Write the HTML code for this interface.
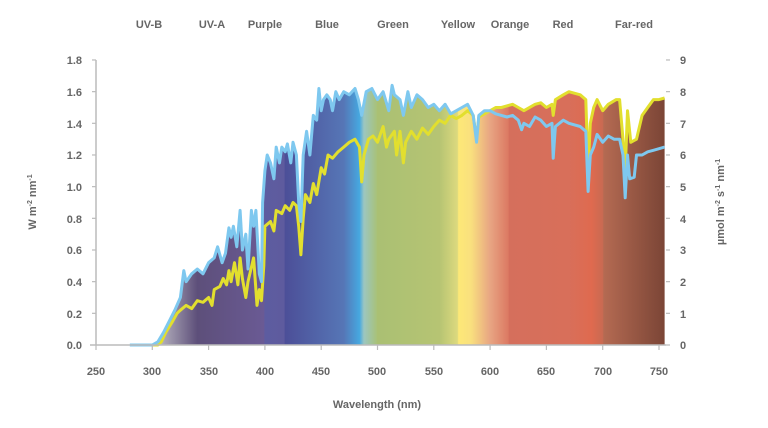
<!DOCTYPE html>
<html><head><meta charset="utf-8"><style>
html,body{margin:0;padding:0;background:#fff;}
svg text{font-family:"Liberation Sans",sans-serif;fill:#666;font-weight:bold;}
</style></head><body>
<svg id="s" width="768" height="423" viewBox="0 0 768 423" xmlns="http://www.w3.org/2000/svg">
<defs>
<linearGradient id="g" gradientUnits="userSpaceOnUse" x1="152" y1="0" x2="665" y2="0">
</linearGradient>
<clipPath id="c"><path id="cp" d=""/></clipPath>
</defs>
<g font-size="11" text-anchor="middle">
<text x="149" y="28">UV-B</text><text x="212" y="28">UV-A</text><text x="265" y="28">Purple</text>
<text x="327" y="28">Blue</text><text x="393" y="28">Green</text><text x="458" y="28">Yellow</text>
<text x="510" y="28">Orange</text><text x="563" y="28">Red</text><text x="634" y="28">Far-red</text>
</g>
<rect x="96" y="55" width="570" height="291" fill="url(#g)" clip-path="url(#c)"/>
<path id="yl" fill="none" stroke="#e2df2e" stroke-width="3" stroke-linejoin="round"/>
<path id="bl" fill="none" stroke="#7ec8ef" stroke-width="3" stroke-linejoin="round"/>
<line x1="96" y1="60" x2="96" y2="345" stroke="#bbb" stroke-width="1.5"/>
<line x1="90" y1="345" x2="666" y2="345" stroke="#bbb" stroke-width="1.5"/>
<g id="ticks" stroke="#bbb" stroke-width="1.2"></g>
<g font-size="11" text-anchor="end">
<text x="82" y="64">1.8</text><text x="82" y="96">1.6</text><text x="82" y="128">1.4</text>
<text x="82" y="159">1.2</text><text x="82" y="191">1.0</text><text x="82" y="223">0.8</text>
<text x="82" y="254">0.6</text><text x="82" y="286">0.4</text><text x="82" y="318">0.2</text>
<text x="82" y="349">0.0</text>
</g>
<g font-size="11" text-anchor="start">
<text x="680" y="64">9</text><text x="680" y="96">8</text><text x="680" y="128">7</text>
<text x="680" y="159">6</text><text x="680" y="191">5</text><text x="680" y="223">4</text>
<text x="680" y="254">3</text><text x="680" y="286">2</text><text x="680" y="318">1</text>
<text x="680" y="349">0</text>
</g>
<g font-size="11" text-anchor="middle">
<text x="96" y="375">250</text><text x="152" y="375">300</text><text x="209" y="375">350</text>
<text x="265" y="375">400</text><text x="321" y="375">450</text><text x="377" y="375">500</text>
<text x="434" y="375">550</text><text x="490" y="375">600</text><text x="546" y="375">650</text>
<text x="603" y="375">700</text><text x="659" y="375">750</text>
<text x="377" y="408">Wavelength (nm)</text>
</g>
<text font-size="11" text-anchor="middle" transform="translate(36,202) rotate(-90)">W m<tspan font-size="7" dy="-4">-2</tspan><tspan dy="4"> nm</tspan><tspan font-size="7" dy="-4">-1</tspan></text>
<text font-size="11" text-anchor="middle" transform="translate(724,202) rotate(-90)">µmol m<tspan font-size="7" dy="-4">-2</tspan><tspan dy="4"> s</tspan><tspan font-size="7" dy="-4">-1</tspan><tspan dy="4"> nm</tspan><tspan font-size="7" dy="-4">-1</tspan></text>
</svg>
<script>
var X=function(n){return 96+(n-250)*1.126;},Y=function(v){return 345-v*158.33;};
var B=[280,0,300,0,305,0.02,310,0.08,315,0.15,320,0.22,325,0.3,328,0.47,330,0.4,335,0.45,340,0.48,345,0.45,350,0.52,355,0.55,358,0.62,362,0.52,365,0.58,368,0.74,370,0.68,372,0.75,375,0.62,378,0.85,380,0.6,383,0.7,385,0.48,388,0.85,390,0.75,392,0.85,395,0.45,397,0.4,398,0.9,400,1.1,402,1.2,405,1.15,408,1.05,410,1.25,413,1.15,415,1.25,418,1.22,420,1.27,423,1.15,425,1.28,428,1.2,430,0.9,432,0.78,434,1.2,437,1.35,440,1.2,443,1.45,446,1.42,448,1.62,450,1.48,452,1.55,455,1.58,458,1.55,460,1.48,463,1.6,466,1.55,470,1.6,475,1.58,480,1.62,483,1.55,486,1.45,490,1.6,495,1.62,500,1.55,505,1.6,510,1.48,513,1.64,515,1.58,520,1.55,523,1.45,527,1.6,530,1.5,535,1.58,540,1.55,545,1.5,550,1.52,555,1.48,560,1.52,565,1.46,570,1.48,575,1.5,580,1.52,585,1.45,588,1.28,590,1.45,595,1.48,600,1.48,605,1.46,610,1.45,615,1.44,620,1.45,625,1.42,628,1.36,630,1.4,635,1.38,640,1.44,645,1.42,650,1.38,655,1.4,656,1.18,658,1.38,665,1.42,670,1.4,680,1.38,685,1.35,687,0.97,689,1.2,692,1.25,695,1.33,700,1.28,705,1.32,710,1.3,715,1.3,718,1.2,720,0.93,722,1.2,724,1.05,728,1.06,730,1.2,735,1.2,740,1.22,745,1.23,750,1.24,755,1.25];
var Yw=[300,0,305,0,308,0.02,312,0.08,318,0.15,322,0.2,325,0.22,330,0.25,335,0.23,340,0.28,345,0.27,350,0.3,353,0.25,355,0.35,360,0.37,363,0.42,366,0.38,368,0.47,370,0.4,373,0.52,376,0.38,378,0.55,380,0.42,383,0.3,385,0.4,390,0.55,392,0.35,393,0.25,395,0.35,397,0.28,399,0.5,400,0.75,405,0.78,408,0.72,410,0.85,415,0.83,418,0.88,422,0.85,425,0.9,428,0.88,430,0.75,432,0.57,434,0.8,436,0.95,440,0.9,443,1.02,446,0.95,450,1.12,453,1.08,456,1.2,460,1.18,465,1.22,470,1.25,475,1.28,480,1.3,484,1.25,486,1.03,488,1.2,492,1.3,496,1.32,500,1.28,505,1.38,508,1.25,510,1.3,515,1.35,517,1.2,520,1.35,523,1.15,525,1.28,530,1.35,535,1.3,540,1.37,545,1.33,550,1.38,555,1.42,560,1.4,565,1.45,570,1.43,575,1.45,580,1.48,585,1.45,588,1.3,590,1.44,595,1.46,600,1.48,605,1.5,610,1.5,620,1.52,625,1.5,630,1.48,640,1.52,645,1.53,650,1.5,655,1.52,656,1.45,658,1.55,665,1.58,670,1.6,680,1.58,685,1.55,687,1.1,689,1.4,692,1.5,695,1.55,700,1.48,705,1.52,712,1.55,715,1.55,718,1.3,720,1.1,722,1.48,725,1.28,730,1.3,735,1.45,740,1.5,745,1.55,750,1.55,755,1.56];
function path(a){var s="";for(var i=0;i<a.length;i+=2)s+=(i?"L":"M")+X(a[i]).toFixed(1)+","+Y(a[i+1]).toFixed(1);return s;}
document.getElementById("bl").setAttribute("d",path(B));
document.getElementById("yl").setAttribute("d",path(Yw));
function interp(a,n){for(var i=0;i<a.length-2;i+=2){if(n>=a[i]&&n<=a[i+2]){var t=(n-a[i])/(a[i+2]-a[i]||1);return a[i+1]+t*(a[i+3]-a[i+1]);}}return 0;}
var env=[];for(var n=280;n<=755;n+=0.5){env.push(n,Math.max(interp(B,n),interp(Yw,n)));}
document.getElementById("cp").setAttribute("d",path(env)+"L"+X(755)+","+Y(0)+"L"+X(280)+","+Y(0)+"Z");
var st=[[300,"#c8c6cc"],[340,"#5d4f7a"],[399,"#6a5a94"],[400,"#5d5ca0"],[417,"#5e5b9e"],[418,"#4c4f98"],[470,"#5676b6"],[484,"#46a8e0"],[488,"#9cc6c0"],[499,"#a8c27c"],[500,"#aac073"],[555,"#b6c473"],[571,"#dcd97e"],[572,"#fde877"],[583,"#f9e07e"],[600,"#e8a583"],[616,"#dc7a63"],[617,"#d56f5c"],[670,"#d86f5a"],[690,"#df6a4f"],[700,"#c96a52"],[701,"#b46a52"],[755,"#7b4536"]];
var g=document.getElementById("g"),h="";st.forEach(function(s){h+='<stop offset="'+((X(s[0])-152)/(665-152)).toFixed(4)+'" stop-color="'+s[1]+'"/>';});
g.innerHTML=h;
var tk="";for(var i=0;i<=9;i++){var y=345-i*31.67;tk+='<line x1="666" y1="'+y+'" x2="670" y2="'+y+'"/>';if(i)tk+='<line x1="92" y1="'+y+'" x2="96" y2="'+y+'"/>';}
for(var n=250;n<=750;n+=50){tk+='<line x1="'+X(n)+'" y1="345" x2="'+X(n)+'" y2="350"/>';}
document.getElementById("ticks").innerHTML=tk;
</script>
</body></html>
